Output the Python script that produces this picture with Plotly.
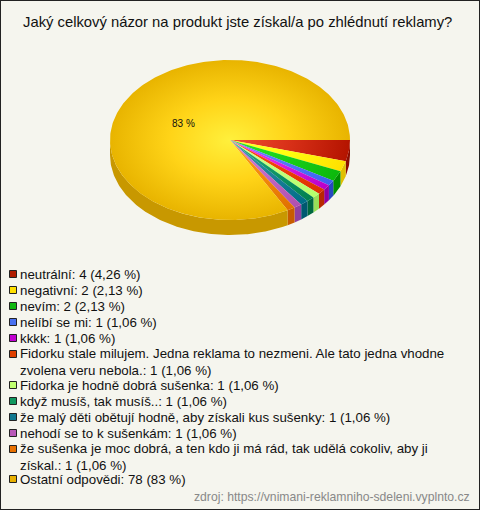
import numpy as np
import plotly.graph_objects as go

title = "Jaký celkový názor na produkt jste získal/a po zhlédnutí reklamy?"
categories = ["neutrální", "negativní", "nevím", "nelíbí se mi", "kkkk",
              "Fidorku stale milujem. Jedna reklama to nezmeni. Ale tato jedna vhodne<br>zvolena veru nebola.",
              "Fidorka je hodně dobrá sušenka", "když musíš, tak musíš..",
              "že malý děti obětují hodně, aby získali kus sušenky", "nehodí se to k sušenkám",
              "že sušenka je moc dobrá, a ten kdo ji má rád, tak udělá cokoliv, aby ji<br>získal.",
              "Ostatní odpovědi"]
values = [4, 2, 2, 1, 1, 1, 1, 1, 1, 1, 1, 78]
shares = ["4,26", "2,13", "2,13", "1,06", "1,06", "1,06", "1,06", "1,06", "1,06", "1,06", "1,06", "83"]
inner = ["#f04e30", "#ffff2a", "#2ae62a", "#6a8cff", "#ea3cf8", "#ff5218", "#d4ff90", "#26b07a", "#3e9eae", "#d680d6", "#ffa81c", "#fff03c"]
middle = ["#d83018", "#ffff10", "#1ad01a", "#5478fa", "#d820e4", "#f04008", "#c4ff7c", "#109868", "#20849a", "#c468c4", "#f48a0c", "#ffd418"]
outer = ["#b41400", "#ffe000", "#0cb80c", "#3c60f0", "#b800c8", "#dc3200", "#b4ff6c", "#008050", "#006c88", "#b050b0", "#e07000", "#e8b400"]
wall = ["#8c0c00", "#e0c000", "#009000", "#2848c0", "#9000a0", "#b82800", "#98e058", "#006840", "#005870", "#9040a0", "#c85c00", "#c89800"]
swatch = ["#b01c00", "#ffe000", "#10b810", "#4870f0", "#c000d0", "#e04000", "#c0ff70", "#109860", "#107890", "#b858b8", "#e87000", "#e8b000"]
legend_y = [274, 290, 306, 322, 338, 354, 385, 401, 417, 433, 449, 479]
BG = "#f5f5ee"
CX, CY, RX, RY, DEPTH = 230, 140, 120, 80, 15

fig = go.Figure()
edges = np.cumsum([0] + values) / sum(values) * 2 * np.pi


def rim(a, b):
    t = np.linspace(a, b, max(3, int((b - a) * 60)))
    return CX + RX * np.cos(t), CY + RY * np.sin(t)


# side wall (only the front half of the disc is visible)
for i in range(len(values)):
    a, b = edges[i], min(edges[i + 1], np.pi)
    if a >= np.pi:
        continue
    x, y = rim(a, b)
    fig.add_trace(go.Scatter(x=np.r_[x, x[::-1]], y=np.r_[y, y[::-1] + DEPTH], mode="lines", fill="toself",
                             fillcolor=wall[i], line=dict(width=0), hoverinfo="skip", showlegend=False))

# top face: zero-area spurs make every slice's bbox the whole ellipse, centring its radial gradient
spur_x = [CX, CX - RX, CX, CX + RX, CX, CX, CX, CX]
spur_y = [CY, CY, CY, CY, CY, CY - RY, CY, CY + RY]
for i in range(len(values)):
    x, y = rim(edges[i], edges[i + 1])
    fig.add_trace(go.Scatter(x=np.r_[x, spur_x, CX, x[0]], y=np.r_[y, spur_y, CY, y[0]], mode="lines", fill="toself",
                             fillgradient=dict(type="radial", colorscale=[[0, inner[i]], [0.5, middle[i]], [1, outer[i]]]),
                             line=dict(width=0), hoverinfo="skip", showlegend=False))

# legend swatches
fig.add_trace(go.Scatter(x=[13] * len(values), y=legend_y, mode="markers", showlegend=False, hoverinfo="skip",
                         marker=dict(symbol="square", size=7, color=swatch, line=dict(color="#222", width=1))))

ann = [dict(x=237, y=22, text=title, font=dict(size=14.8)),
       dict(x=183, y=123, text="83 %", font=dict(size=10))]
for c, v, s, y in zip(categories, values, shares, legend_y):
    two = "<br>" in c
    ann.append(dict(x=20, y=y, text=f"{c}: {v} ({s} %)", align="left", xanchor="left",
                    yanchor="top" if two else "middle", yshift=8 if two else 0,
                    font=dict(size=13.3)))
ann.append(dict(x=470, y=497, text="zdroj: https://vnimani-reklamniho-sdeleni.vyplnto.cz", xanchor="right",
                font=dict(size=12.2, color="#888888")))
for a in ann:
    a.update(xref="x", yref="y", showarrow=False, borderpad=0, borderwidth=0)
    a.setdefault("xanchor", "center")
    a.setdefault("yanchor", "middle")

fig.update_layout(
    width=480, height=510, margin=dict(l=0, r=0, t=0, b=0), autosize=False,
    paper_bgcolor=BG, plot_bgcolor=BG, showlegend=False,
    font=dict(family="Liberation Sans, Arial, sans-serif", color="#111111"),
    xaxis=dict(range=[0, 480], visible=False, fixedrange=True),
    yaxis=dict(range=[510, 0], visible=False, fixedrange=True),
    annotations=ann,
    shapes=[dict(type="rect", xref="paper", yref="paper", x0=0, x1=1, y0=0, y1=1,
                 line=dict(color="#222222", width=2), fillcolor="rgba(0,0,0,0)")],
)
fig.write_html("out.html", config=dict(displayModeBar=False),
               post_script="document.body.style.margin='0';document.documentElement.style.overflow='hidden';")
